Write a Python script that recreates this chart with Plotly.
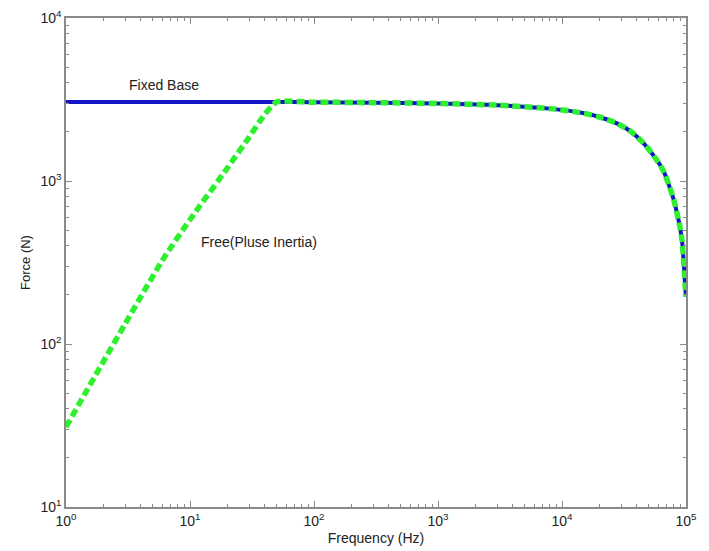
import math
import plotly.graph_objects as go

# ---- data ----
freq_high = [50, 100, 300, 1000, 3000, 8000, 14000, 20000, 28000, 36000, 45000,
             53000, 62000, 68000, 74000, 80000, 85000, 89000, 93000, 95000,
             97000, 98500, 100000]
force_high = [3050, 3045, 3025, 2990, 2920, 2780, 2630, 2470, 2250, 2010, 1720,
              1480, 1250, 1090, 910, 760, 625, 530, 430, 350,
              275, 225, 195]

fixed_freq_low = [1]
fixed_force_low = [3050]

free_freq_low = [1, 2, 3, 6, 10, 20, 30, 40]
free_force_low = [31, 78, 133, 327, 580, 1200, 1860, 2560]

x_tickvals = [1, 10, 100, 1000, 10000, 100000]
x_ticktext = ["10<sup>0</sup>", "10<sup>1</sup>", "10<sup>2</sup>",
              "10<sup>3</sup>", "10<sup>4</sup>", "10<sup>5</sup>"]
y_tickvals = [10, 100, 1000, 10000]
y_ticktext = ["10<sup>1</sup>", "10<sup>2</sup>", "10<sup>3</sup>", "10<sup>4</sup>"]

label_fixed = "Fixed Base"
label_free = "Free(Pluse Inertia)"
x_title = "Frequency (Hz)"
y_title = "Force (N)"

# ---- figure ----
fixed_freq = fixed_freq_low + freq_high
fixed_force = fixed_force_low + force_high
free_freq = free_freq_low + freq_high
free_force = free_force_low + force_high

fig = go.Figure()
fig.add_trace(go.Scatter(x=fixed_freq, y=fixed_force, mode="lines",
                         line=dict(color="#1414c8", width=4, shape="spline", smoothing=0.6),
                         name=label_fixed, showlegend=False))
fig.add_trace(go.Scatter(x=free_freq, y=free_force, mode="lines",
                         line=dict(color="#2ef02e", width=5.5, dash="8px,4px",
                                   shape="spline", smoothing=0.6),
                         name=label_free, showlegend=False))

def minor_vals(lo_exp, hi_exp):
    vals = []
    for e in range(lo_exp, hi_exp):
        for d in range(2, 10):
            vals.append(d * 10 ** e)
    return vals

axis_color = "#8a8a8a"
font_family = "Liberation Sans, Arial, sans-serif"
text_color = "#222222"

common = dict(type="log", showgrid=False, zeroline=False, showline=True,
              linecolor=axis_color, linewidth=1.5, mirror="ticks",
              ticks="inside", ticklen=6, tickcolor=axis_color, tickwidth=1,
              tickmode="array", automargin=False,
              tickfont=dict(family=font_family, size=14, color=text_color))

fig.update_xaxes(**common, range=[0, 5], tickvals=x_tickvals, ticktext=x_ticktext,
                 minor=dict(tickmode="array", tickvals=minor_vals(0, 5),
                            ticks="inside", ticklen=3, tickcolor=axis_color,
                            showgrid=False),
                 title=dict(text=x_title, standoff=6,
                            font=dict(family=font_family, size=14, color=text_color)))
fig.update_yaxes(**common, range=[1, 4], tickvals=y_tickvals, ticktext=y_ticktext,
                 minor=dict(tickmode="array", tickvals=minor_vals(1, 4),
                            ticks="inside", ticklen=3, tickcolor=axis_color,
                            showgrid=False),
                 title=dict(text=y_title, standoff=7,
                            font=dict(family=font_family, size=13, color=text_color)))

fig.add_annotation(x=math.log10(6.2), y=math.log10(3900), text=label_fixed,
                   showarrow=False, xref="x", yref="y",
                   font=dict(family=font_family, size=14, color=text_color))
fig.add_annotation(x=math.log10(36), y=math.log10(423), text=label_free,
                   showarrow=False, xref="x", yref="y",
                   font=dict(family=font_family, size=14, color=text_color))

fig.update_layout(width=709, height=551,
                  margin=dict(l=66, r=23, t=18, b=44),
                  plot_bgcolor="white", paper_bgcolor="white",
                  showlegend=False)

fig.write_html("out.html")
